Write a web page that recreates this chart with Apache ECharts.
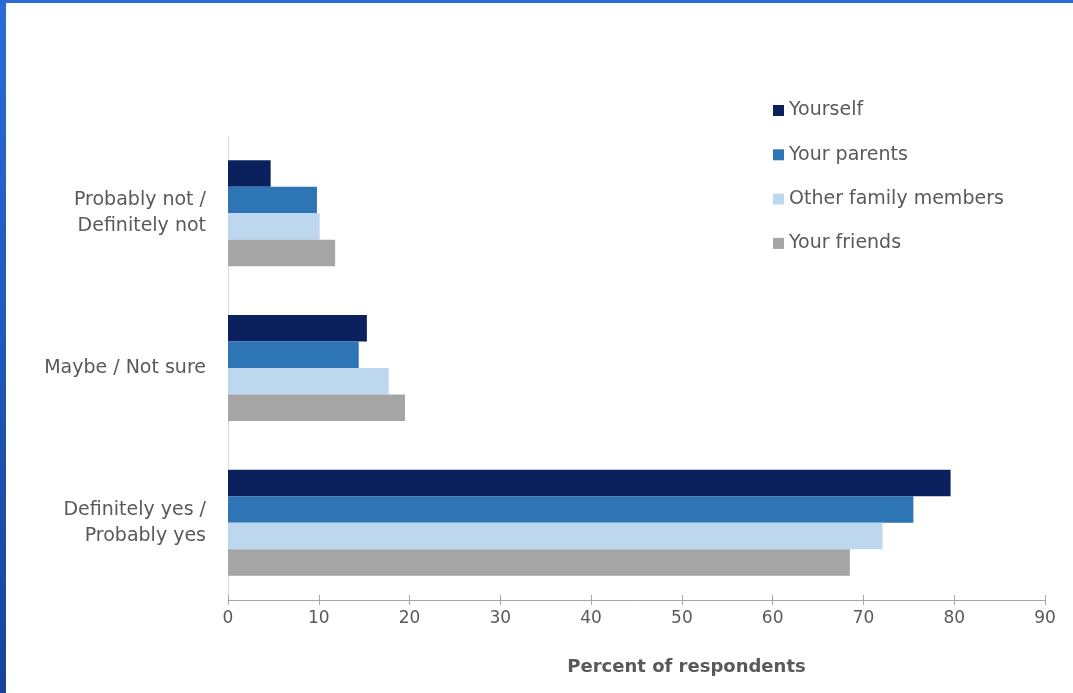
<!DOCTYPE html>
<html>
<head>
<meta charset="utf-8">
<script src="https://cdn.jsdelivr.net/npm/echarts@6/dist/echarts.min.js"></script>
<style>
html,body{margin:0;padding:0;background:#fff;}
#chart{position:absolute;left:0;top:0;width:1073px;height:693px;}
#bl{position:absolute;left:0;top:0;width:6px;height:693px;background:linear-gradient(#2b6bd8,#17449a);}
#bt{position:absolute;left:0;top:0;width:1073px;height:3px;background:#2b6bd8;}
</style>
</head>
<body>
<div id="chart"></div>
<div id="bl"></div>
<div id="bt"></div>
<script>
const categories = ["Probably not /\nDefinitely not", "Maybe / Not sure", "Definitely yes /\nProbably yes"];
const seriesNames = ["Yourself", "Your parents", "Other family members", "Your friends"];
const yourself = [4.7, 15.3, 79.6];
const parents = [9.8, 14.4, 75.5];
const otherFamily = [10.1, 17.7, 72.1];
const friends = [11.8, 19.5, 68.5];
const xTicks = [0, 10, 20, 30, 40, 50, 60, 70, 80, 90];
const colors = ["#0b215e", "#2e75b6", "#bdd7ee", "#a5a5a5"];

const values = [yourself, parents, otherFamily, friends];
const chart = echarts.init(document.getElementById('chart'));
const font = "DejaVu Sans, Arial, sans-serif";
chart.setOption({
  animation: false,
  textStyle: {fontFamily: font},
  legend: {
    orient: 'vertical', left: 773, top: 101, padding: 0,
    itemWidth: 11, itemHeight: 11, itemGap: 25.3, icon: 'rect',
    textStyle: {fontSize: 19, color: '#595959', fontFamily: font},
    data: seriesNames
  },
  grid: {left: 228, right: 28, top: 136, bottom: 93, containLabel: false},
  xAxis: [{
    type: 'value', min: xTicks[0], max: xTicks[xTicks.length-1], interval: 10,
    axisLine: {show: true, lineStyle: {color: '#a6a6a6', width: 1}},
    axisTick: {show: true, length: 5, lineStyle: {color: '#a6a6a6'}},
    splitLine: {show: false},
    axisLabel: {fontSize: 17, color: '#595959', margin: 10},
    name: 'Percent of respondents', nameLocation: 'middle', nameGap: 58,
    nameTextStyle: {fontSize: 18, fontWeight: 'bold', color: '#595959', padding: [0,0,0,100]}
  }, {
    type: 'value', position: 'bottom', min: xTicks[0], max: xTicks[xTicks.length-1], interval: 10,
    axisLine: {show: false}, axisTick: {show: true, inside: true, length: 5, lineStyle: {color: '#a6a6a6'}},
    axisLabel: {show: false}, splitLine: {show: false}
  }],
  yAxis: {
    type: 'category', inverse: true, data: categories,
    axisLine: {show: true, lineStyle: {color: '#d9d9d9'}},
    axisTick: {show: false},
    axisLabel: {fontSize: 19, color: '#595959', margin: 22, lineHeight: 26, align: 'right'}
  },
  series: seriesNames.map((n, i) => ({
    name: n, type: 'bar', data: values[i], barWidth: 26.5, barGap: '0%',
    itemStyle: {color: colors[i]}
  }))
});
</script>
</body>
</html>
